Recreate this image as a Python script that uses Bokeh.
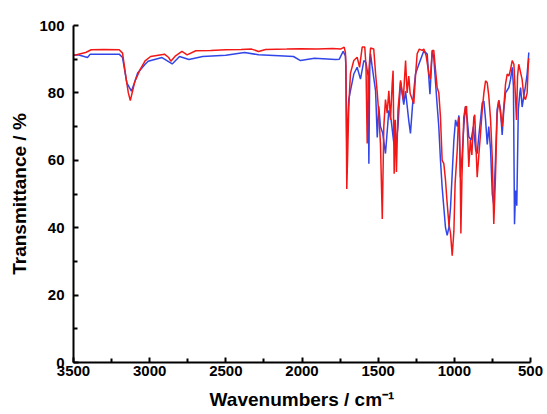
from bokeh.plotting import figure
from bokeh.models import Range1d, FixedTicker
from bokeh.embed import file_html
from bokeh.resources import INLINE

red_wn = [3500, 3480, 3420, 3384, 3300, 3200, 3178, 3155, 3140, 3127,
          3110, 3097, 3063, 3030, 2994, 2903, 2875, 2861, 2830, 2788,
          2754, 2697, 2600, 2500, 2400, 2331, 2285, 2239, 2100, 2010,
          1900, 1800, 1747, 1723, 1715, 1712, 1706, 1700, 1693, 1682,
          1660, 1638, 1622, 1605, 1588, 1580, 1572, 1562, 1550, 1529,
          1517, 1506, 1496, 1485, 1473, 1463, 1452, 1441, 1430, 1419,
          1408, 1402, 1395, 1388, 1380, 1370, 1353, 1335, 1320, 1310,
          1299, 1290, 1266, 1255, 1244, 1230, 1211, 1200, 1185, 1167,
          1158, 1145, 1135, 1124, 1113, 1102, 1091, 1080, 1069, 1058,
          1047, 1036, 1025, 1014, 1003, 995, 981, 975, 968, 962,
          957, 950, 938, 927, 920, 905, 895, 885, 872, 866,
          850, 839, 828, 817, 806, 795, 784, 774, 762, 751,
          741, 730, 719, 708, 697, 686, 675, 664, 653, 642,
          631, 620, 609, 600, 592, 585, 577, 565, 555, 544,
          533, 522, 515, 511]
red_t = [91.2, 91.3, 92.0, 92.8, 92.9, 92.8, 91.8, 84.4, 80.0, 77.7,
         81.0, 83.4, 86.9, 89.5, 90.8, 91.5, 90.5, 89.4, 91.0, 92.3,
         91.3, 92.5, 92.6, 92.8, 92.9, 93.0, 92.3, 92.9, 93.0, 93.1,
         93.0, 93.2, 93.0, 93.6, 92.0, 88.0, 51.5, 62.0, 75.8, 85.8,
         89.6, 90.6, 87.6, 93.6, 93.6, 88.0, 65.0, 86.0, 93.3, 93.0,
         85.7, 80.0, 73.9, 65.0, 42.6, 70.0, 78.0, 74.0, 80.6, 72.0,
         82.6, 86.6, 56.0, 72.0, 56.5, 75.0, 83.7, 78.0, 89.6, 80.0,
         85.0, 79.8, 76.8, 85.0, 91.6, 93.0, 92.6, 93.0, 91.0, 85.7,
         84.0, 92.6, 92.6, 87.0, 81.7, 80.0, 72.8, 60.0, 59.0, 54.1,
         47.2, 41.2, 38.3, 31.7, 38.9, 53.0, 63.0, 69.9, 72.8, 60.0,
         38.3, 55.0, 72.8, 75.9, 76.0, 58.0, 66.0, 61.6, 72.8, 73.5,
         55.0, 61.6, 68.0, 74.8, 80.0, 83.6, 83.0, 79.2, 72.0, 60.6,
         41.1, 55.0, 73.8, 77.8, 74.0, 70.0, 76.0, 82.6, 85.6, 85.0,
         87.0, 89.6, 88.5, 80.0, 72.0, 85.0, 88.5, 86.0, 84.0, 79.0,
         78.0, 80.0, 88.0, 90.3]

blue_wn = [3500, 3470, 3408, 3390, 3200, 3178, 3150, 3120, 3100, 3079,
           3030, 3010, 2919, 2852, 2804, 2742, 2652, 2500, 2377, 2285,
           2150, 2056, 2010, 1918, 1780, 1755, 1730, 1715, 1712, 1706,
           1700, 1693, 1682, 1660, 1638, 1616, 1594, 1580, 1566, 1561,
           1555, 1550, 1540, 1517, 1506, 1496, 1485, 1470, 1452, 1430,
           1415, 1397, 1386, 1370, 1353, 1332, 1320, 1299, 1288, 1275,
           1266, 1255, 1233, 1200, 1178, 1160, 1145, 1135, 1113, 1102,
           1091, 1080, 1069, 1058, 1047, 1036, 1025, 1014, 1003, 992,
           981, 970, 960, 948, 938, 927, 915, 905, 890, 875,
           860, 850, 840, 828, 817, 806, 795, 784, 774, 762,
           751, 741, 730, 719, 708, 697, 686, 675, 664, 642,
           631, 620, 612, 605, 598, 590, 580, 570, 565, 555,
           544, 533, 522, 511]
blue_t = [91.2, 91.3, 90.5, 91.5, 91.5, 90.5, 83.0, 80.5, 83.0, 85.9,
          88.5, 89.4, 90.5, 88.6, 90.8, 89.9, 90.8, 91.2, 92.0, 91.3,
          91.0, 90.8, 89.6, 90.3, 89.9, 90.0, 92.3, 91.0, 88.0, 64.0,
          70.0, 78.0, 80.6, 85.6, 87.6, 84.1, 89.6, 89.0, 85.0, 59.0,
          88.0, 91.6, 88.0, 80.6, 66.8, 76.0, 70.0, 68.0, 62.0, 74.8,
          72.0, 65.0, 63.5, 70.0, 83.2, 76.5, 80.5, 71.7, 68.0, 76.0,
          80.6, 85.6, 88.5, 92.5, 91.5, 79.6, 92.5, 90.5, 76.5, 70.0,
          60.0, 52.0, 46.0, 40.0, 37.7, 40.0, 46.0, 56.0, 66.0, 72.0,
          70.0, 73.3, 55.0, 62.0, 70.0, 75.9, 72.0, 67.0, 66.0, 70.0,
          63.0, 62.0, 67.0, 72.0, 77.0, 77.6, 72.0, 64.7, 70.0, 63.0,
          50.0, 46.8, 60.0, 75.0, 77.8, 75.0, 67.5, 75.0, 80.0, 81.6,
          84.0, 87.6, 82.0, 41.0, 51.0, 46.5, 75.0, 80.0, 81.6, 75.8,
          79.0, 82.0, 85.6, 92.0]

x_major = [3500, 3000, 2500, 2000, 1500, 1000, 500]
x_minor = [3250, 2750, 2250, 1750, 1250, 750]
y_major = [0, 20, 40, 60, 80, 100]
y_minor = [10, 30, 50, 70, 90]

p = figure(width=547, height=414, output_backend="svg", toolbar_location=None,
           x_range=Range1d(3500, 500), y_range=Range1d(0, 100),
           x_axis_label="Wavenumbers / cm\u207b\u00b9",
           y_axis_label="Transmittance / %",
           min_border_left=73, min_border_right=17,
           min_border_top=25, min_border_bottom=52)
p.grid.visible = False
p.outline_line_color = None
p.background_fill_color = "white"
p.border_fill_color = "white"

p.line(blue_wn, blue_t, line_color="#3146e8", line_width=1.5)
p.line(red_wn, red_t, line_color="#f21818", line_width=1.5)

p.xaxis.ticker = FixedTicker(ticks=x_major, minor_ticks=x_minor)
p.yaxis.ticker = FixedTicker(ticks=y_major, minor_ticks=y_minor)

for ax in p.axis:
    ax.axis_line_width = 2
    ax.axis_line_color = "black"
    ax.major_tick_in = 5
    ax.major_tick_out = 0
    ax.minor_tick_in = 4
    ax.minor_tick_out = 0
    ax.major_tick_line_width = 2
    ax.minor_tick_line_width = 2
    ax.major_label_text_font = "Liberation Sans"
    ax.major_label_text_font_style = "bold"
    ax.major_label_text_font_size = "15px"
    ax.major_label_text_color = "black"
    ax.axis_label_text_font = "Liberation Sans"
    ax.axis_label_text_font_style = "bold"
    ax.axis_label_text_font_size = "19px"
    ax.axis_label_text_color = "black"

p.xaxis.major_label_standoff = 3
p.xaxis.axis_label_standoff = 10
p.yaxis.major_label_standoff = 9
p.yaxis.axis_label_standoff = 6

open("out.html", "w").write(file_html(p, INLINE))
